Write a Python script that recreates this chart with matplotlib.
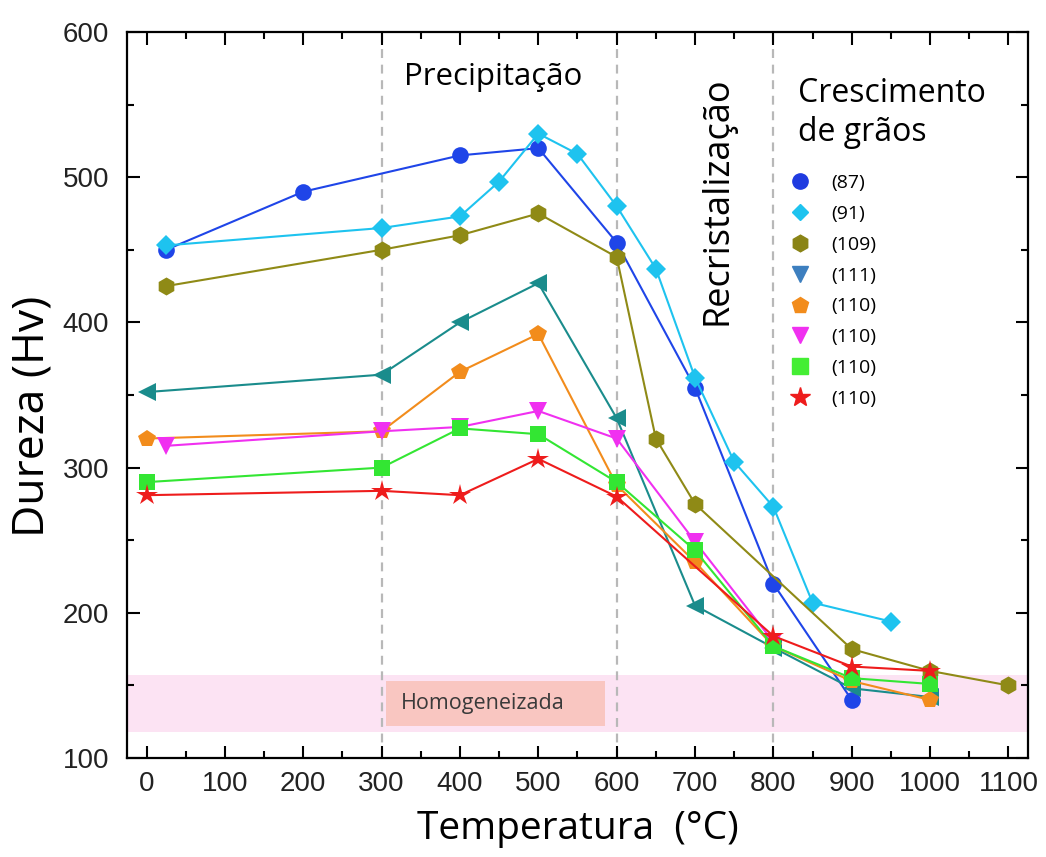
import matplotlib
matplotlib.use("Agg")
import matplotlib.pyplot as plt
from matplotlib.lines import Line2D
from matplotlib.ticker import MultipleLocator

# hardness (Hv) vs. treatment temperature for each sample
t_87 = [25, 200, 400, 500, 600, 700, 800, 900]
hv_87 = [450, 490, 515, 520, 455, 355, 220, 140]

t_91 = [25, 300, 400, 450, 500, 550, 600, 650, 700, 750, 800, 850, 950]
hv_91 = [453, 465, 473, 497, 530, 516, 480, 437, 362, 304, 273, 207, 194]

t_109 = [25, 300, 400, 500, 600, 650, 700, 900, 1000, 1100]
hv_109 = [425, 450, 460, 475, 445, 320, 275, 175, 160, 150]

t_111 = [0, 300, 400, 500, 600, 700, 800, 900, 1000]
hv_111 = [352, 364, 400, 427, 334, 205, 176, 148, 142]

t_110a = [0, 300, 400, 500, 600, 700, 800, 900, 1000]
hv_110a = [320, 325, 366, 392, 288, 235, 177, 153, 140]

t_110b = [25, 300, 400, 500, 600, 700, 800]
hv_110b = [315, 325, 328, 339, 320, 249, 180]

t_110c = [0, 300, 400, 500, 600, 700, 800, 900, 1000]
hv_110c = [290, 300, 327, 323, 290, 243, 177, 155, 151]

t_110d = [0, 300, 400, 500, 600, 800, 900, 1000]
hv_110d = [281, 284, 281, 306, 280, 184, 163, 160]

labels = ["(87)", "(91)", "(109)", "(111)", "(110)", "(110)", "(110)", "(110)"]
stage_bounds = [300, 600, 800]
homog_band = (118, 157)

series = [
    (t_87, hv_87, "#1f45e8", "o", 12),
    (t_91, hv_91, "#1ec3ef", "D", 10),
    (t_109, hv_109, "#8f8a16", "h", 13),
    (t_111, hv_111, "#1a8c8c", "<", 13),
    (t_110a, hv_110a, "#f28c1c", "p", 13),
    (t_110b, hv_110b, "#f030f0", "v", 13),
    (t_110c, hv_110c, "#33e633", "s", 11),
    (t_110d, hv_110d, "#ee1c1c", "*", 16),
]

fig = plt.figure(figsize=(10.46, 8.57), dpi=100)
ax = fig.add_axes([0.1214, 0.1155, 0.8614, 0.8472])

# homogenized reference band
ax.axhspan(*homog_band, color="#fce3f3", zorder=0, lw=0)
ax.fill_between([306, 585], 122, 153, color="#f9c6c1", zorder=0.5, lw=0)
ax.text(325, 137.5, "Homogeneizada", fontsize=15.5, family="Open Sans",
        color="#3a3a3a", va="center", ha="left")

for xb in stage_bounds:
    ax.axvline(xb, color="#b8b8b8", ls=(0, (4, 3)), lw=1.6, zorder=1)

for t, hv, c, m, ms in series:
    ax.plot(t, hv, color=c, marker=m, markersize=ms, lw=1.5,
            markeredgewidth=0, zorder=3)

# stage annotations
ax.text(443, 569, "Precipitação", fontsize=22.5, family="Open Sans",
        ha="center", va="center")
ax.text(729, 484, "Recristalização", fontsize=26, family="Open Sans",
        rotation=90, ha="center", va="center")
ax.text(832, 544, "Crescimento\nde grãos", fontsize=23, family="Open Sans",
        ha="left", va="center", linespacing=1.25)

handles = [
    Line2D([], [], ls="", marker="o", color="#1f3be0", markersize=11),
    Line2D([], [], ls="", marker="D", color="#1ec3ef", markersize=8),
    Line2D([], [], ls="", marker="h", color="#8a8416", markersize=12),
    Line2D([], [], ls="", marker="v", color="#3d7fbf", markersize=12),
    Line2D([], [], ls="", marker="p", color="#f28c1c", markersize=12),
    Line2D([], [], ls="", marker="v", color="#f030f0", markersize=12),
    Line2D([], [], ls="", marker="s", color="#44ee33", markersize=11),
    Line2D([], [], ls="", marker="*", color="#ee1c1c", markersize=15),
]
ax.legend(handles, labels, loc="upper left", bbox_to_anchor=(0.728, 0.815),
          frameon=False, prop={"family": "Open Sans", "size": 14},
          handlelength=1.0, handletextpad=1.1, labelspacing=0.66,
          borderaxespad=0)

ax.set_xlim(-25, 1125)
ax.set_ylim(100, 600)
ax.xaxis.set_major_locator(MultipleLocator(100))
ax.xaxis.set_minor_locator(MultipleLocator(50))
ax.yaxis.set_major_locator(MultipleLocator(100))
ax.yaxis.set_minor_locator(MultipleLocator(50))
ax.tick_params(which="both", direction="in", top=True, right=True,
               width=1.5, labelsize=20)
ax.tick_params(axis="x", pad=9)
ax.tick_params(axis="y", pad=13)
ax.tick_params(which="major", length=9)
ax.tick_params(which="minor", length=5)
for lab in ax.get_xticklabels() + ax.get_yticklabels():
    lab.set_family("Liberation Sans")
    lab.set_color("#222222")
for sp in ax.spines.values():
    sp.set_linewidth(1.6)

ax.set_xlabel("Temperatura  (°C)", fontsize=28, family="Open Sans", labelpad=10)
ax.set_ylabel("Dureza (Hv)", fontsize=32, family="Open Sans")
ax.yaxis.set_label_coords(-0.08, 0.47)

fig.savefig("out.png", dpi=100)
